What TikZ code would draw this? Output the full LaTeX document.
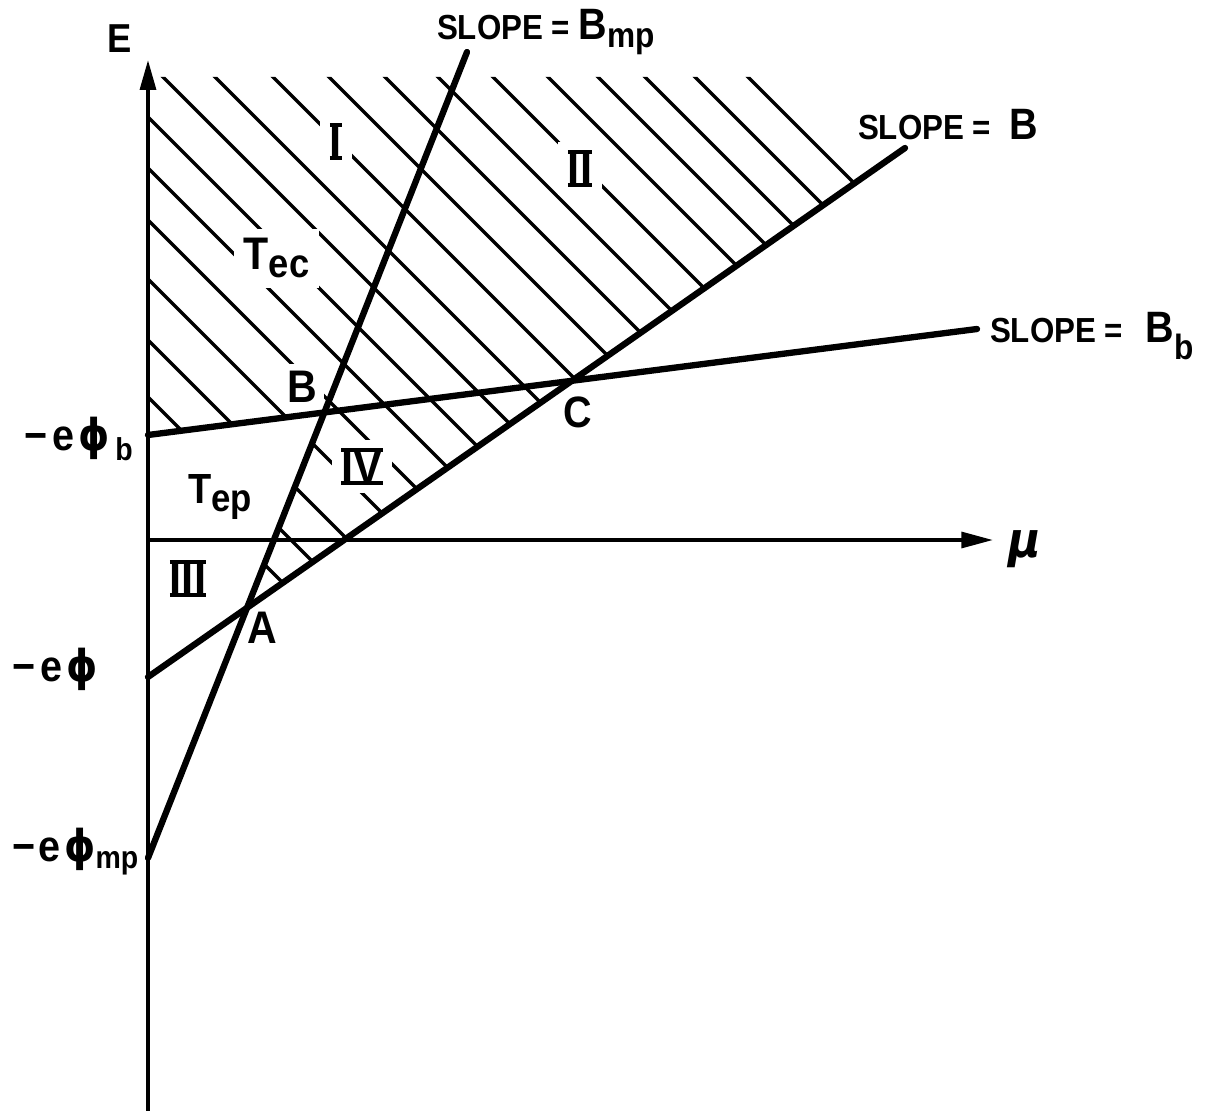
\documentclass[tikz,border=0pt]{standalone}
\usepackage{fontspec}
\setmainfont{Liberation Sans}
\newfontfamily\lf{Liberation Sans}[FakeStretch=0.9]
\newfontfamily\gf{DejaVu Sans}[FakeStretch=0.9]
\usetikzlibrary{arrows.meta}
\newcommand\fs[1]{\fontsize{#1}{#1}\selectfont}
\newcommand\lowsub[3]{\raisebox{-#1}{\fs{#2}#3}}
\newcommand\gp{5.5pt}
\newcommand\phig{{\gf\bfseries ϕ}}
\begin{document}
\begin{tikzpicture}[x=0.02cm,y=-0.02cm,
  heavy/.style={line width=3.6pt,line cap=round},
  axisline/.style={line width=2.1pt},
  hatchline/.style={line width=1.9pt,line cap=round},
  txt/.style={inner sep=0pt,outer sep=0pt,font=\lf\bfseries},
  gaptxt/.style={txt,fill=white,inner sep=\gp},
  numeral/.style={gaptxt,font=\lf\bfseries\fs{27.5}},
  bar/.style={line width=2.1pt}]
\useasboundingbox (0,0) rectangle (1210,1111);
% key points
\coordinate (O) at (148,540);
\coordinate (Etop) at (148,60);
\coordinate (Ebot) at (148,1111);
\coordinate (Mtip) at (993,540);
\coordinate (Pphi) at (148,677);
\coordinate (Pb) at (148,435);
\coordinate (Pmp) at (148,858);
\coordinate (Bend) at (905,148);
\coordinate (Bbend) at (977,329);
\coordinate (Mpend) at (467,52);
\coordinate (A) at (intersection of Pphi--Bend and Pmp--Mpend);
\coordinate (Bpt) at (intersection of Pb--Bbend and Pmp--Mpend);
\coordinate (HtL) at (148,77);
\coordinate (HtR) at (770,77);
\coordinate (HtR2) at (1000,307);
\coordinate (HtC) at (intersection of HtR--HtR2 and Pphi--Bend);
% hatching
\begin{scope}
  \clip (HtL) -- (HtR) -- (HtC) -- (A) -- (Bpt) -- (Pb) -- cycle;
  \foreach \cc in {300,249,192,131,72,20,-31,-86,-138,-196,-252,-308,-361,-416,-471,-521,-568,-618,-671}
    \draw[hatchline] (0,\cc) -- (1210,{1210+(\cc)});
\end{scope}
% region labels
\node[numeral,anchor=base] (rI) at (336,158) {I};
\node[numeral,anchor=base] (rII) at (580,185) {II};
\node[numeral,anchor=base] (rIII) at (188,595) {III};
\node[numeral,anchor=base] (rIV) at (362,483) {IV};
\foreach \n in {rI,rII,rIII,rIV}{
  \draw[bar] ([xshift=\gp,yshift=-\gp]\n.north west) -- ([xshift=-\gp,yshift=-\gp]\n.north east);
  \draw[bar] ([xshift=\gp,yshift=\gp]\n.south west) -- ([xshift=-\gp,yshift=\gp]\n.south east);
}
\node[gaptxt,anchor=base west] (Tec) at (234,270) {\fs{26}T\lowsub{4.5pt}{23}{ec}};
\node[txt,anchor=base west] (Tep) at (188,503) {\fs{24}T\lowsub{5pt}{22}{ep}};
\node[gaptxt,inner sep=4pt,anchor=base] (lB) at (302,402) {\fs{26}B};
\node[txt,anchor=base] (lA) at (262,643) {\fs{26}A};
\node[txt,anchor=base] (lC) at (578,427) {\fs{25}C};
\node[txt,anchor=base] (lE) at (120,53) {\fs{23}E};
\node[txt,anchor=base west,font=\gf\bfseries\itshape] (lmu) at (1008,557) {\fs{28}μ};
\node[txt,anchor=base west] (lpb) at (24,450) {\fs{25}−\hspace{3pt}e\hspace{2.5pt}\phig\hspace{3pt}\lowsub{6pt}{18}{b}};
\node[txt,anchor=base west] (lp) at (12,681) {\fs{25}−\hspace{3pt}e\hspace{2.5pt}\phig};
\node[txt,anchor=base west] (lpmp) at (12,861) {\fs{25}−\hspace{2pt}e\hspace{2pt}\phig\lowsub{4.5pt}{18}{mp}};
\node[txt,anchor=base west] (sMP) at (437,40) {\fs{19.8}SLOPE = \fs{25}B\lowsub{4pt}{20}{mp}};
\node[txt,anchor=base west] (sB) at (858,140) {\fs{19.8}SLOPE = \hspace{5.5pt}\fs{25}B};
\node[txt,anchor=base west] (sBb) at (990,343) {\fs{19.8}SLOPE = \hspace{8pt}\fs{25}B\lowsub{9.5pt}{20}{b}};
% main lines
\draw[heavy] (Pphi) -- (Bend);
\draw[heavy] (Pb) -- (Bbend);
\draw[heavy] (Pmp) -- (Mpend);
% axes
\draw[axisline,-{Triangle[length=17pt,width=9pt]}] (Ebot) -- (Etop);
\draw[axisline,-{Triangle[length=18pt,width=9pt]}] (O) -- (Mtip);
\end{tikzpicture}
\end{document}
